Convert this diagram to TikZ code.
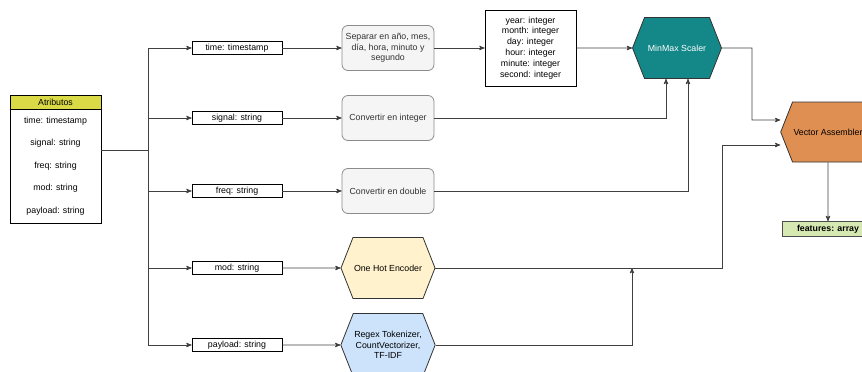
\documentclass[tikz,border=0pt]{standalone}
\usepackage{fontspec}
\setmainfont{Liberation Sans}
\usetikzlibrary{arrows,shapes}

\definecolor{attrhead}{HTML}{DADA46}
\definecolor{procfill}{HTML}{F5F5F5}
\definecolor{proctext}{HTML}{333333}
\definecolor{ohefill}{HTML}{FFF2CC}
\definecolor{tfidffill}{HTML}{CCE3FB}
\definecolor{minmaxfill}{HTML}{148888}
\definecolor{asmfill}{HTML}{E08F52}
\definecolor{featfill}{HTML}{D7E9B3}

\begin{document}
\begin{tikzpicture}[x=1pt,y=-1pt,>=stealth',font=\fontsize{8.8}{10.6}\selectfont,
    wire/.style={line width=0.9pt,draw=black!75},
    typebox/.style={draw=black,line width=0.8pt,fill=white,minimum width=90pt,minimum height=13pt,inner sep=0pt},
    procbox/.style={draw=black!45,line width=0.8pt,fill=procfill,rounded corners=6pt,text=proctext,
        minimum width=92pt,minimum height=45pt,inner sep=1pt,align=center},
    hexnode/.style={shape=signal,signal to=east and west,signal pointer angle=137,draw=black!80,line width=0.8pt,
        minimum width=92pt,minimum height=61pt,inner sep=1pt,align=center}]
                \useasboundingbox (0,0) rectangle (862,372);
                % atributos
                \node[draw=black,line width=0.8pt,fill=attrhead,minimum width=91pt,minimum height=14pt,inner sep=0pt](attrHead)at(55.5, 102){Atributos};
                \node[draw=black,line width=0.8pt,fill=white,minimum width=91pt,minimum height=114pt,inner sep=0pt,align=center,
                    font=\fontsize{8.8}{22.5}\selectfont](attrBody)at(55.5, 166){time: timestamp\\signal: string\\freq: string\\mod: string\\payload: string};
                \coordinate(bus)at(148, 150);
                % tipos
                \node[typebox](tTime)at(237, 48){time: timestamp};
                \node[typebox](tSignal)at(237, 118){signal: string};
                \node[typebox](tFreq)at(237, 191){freq: string};
                \node[typebox](tMod)at(237, 268){mod: string};
                \node[typebox](tPayload)at(237, 345){payload: string};
                % transformaciones
                \node[procbox](pSplit)at(388, 48){Separar en año, mes,\\día, hora, minuto y\\segundo};
                \node[procbox](pInt)at(388, 118){Convertir en integer};
                \node[procbox](pDouble)at(388, 191){Convertir en double};
                \node[hexnode,fill=ohefill](pOneHot)at(388, 268){One Hot Encoder};
                \node[hexnode,fill=tfidffill,minimum height=63pt](pTfidf)at(388, 345){Regex Tokenizer,\\CountVectorizer,\\TF-IDF};
                \node[draw=black,line width=0.8pt,fill=white,minimum width=91pt,minimum height=76pt,inner sep=0pt,align=center,
                    font=\fontsize{8.8}{10.9}\selectfont](parts)at(530.5, 48){year: integer\\month: integer\\day: integer\\hour: integer\\minute: integer\\second: integer};
                \node[hexnode,fill=minmaxfill,text=white,minimum width=89pt](minmax)at(677, 48){MinMax Scaler};
                \node[hexnode,fill=asmfill,minimum width=92pt,minimum height=60pt](assembler)at(828, 132){Vector Assembler};
                \node[draw=black!70,line width=0.8pt,fill=featfill,minimum width=92pt,minimum height=15pt,inner sep=0pt,
                    font=\fontsize{8.8}{10.6}\bfseries](features)at(828, 229){features: array};
                \coordinate(turnA)at(752, 48);
                \coordinate(turnB)at(722, 145);
                \coordinate(joinC)at(632, 268);
                % conexiones
                \draw[wire] (bus -| attrBody.east) -- (bus);
                \draw[wire,->] (bus) |- (tTime);
                \draw[wire,->] (bus) |- (tSignal);
                \draw[wire,->] (bus) |- (tFreq);
                \draw[wire,->] (bus) |- (tMod);
                \draw[wire,->] (bus) |- (tPayload);
                \path[wire,->](tTime) edge (pSplit)
                (tSignal) edge (pInt)
                (tFreq) edge (pDouble)
                (tMod) edge (pOneHot)
                (tPayload) edge (pTfidf)
                (pSplit) edge (parts)
                (parts) edge (minmax)
                (assembler) edge (features);
                \draw[wire,->] (pInt) -| ([xshift=-11pt]minmax.south);
                \draw[wire,->] (pDouble) -| ([xshift=11pt]minmax.south);
                \draw[wire,->] (minmax) -- (turnA) |- ([yshift=12pt]assembler.west);
                \draw[wire,->] (pOneHot) -| (turnB) -- (assembler.west |- turnB);
                \draw[wire,->] (pTfidf) -| (joinC);
            \end{tikzpicture}
\end{document}
